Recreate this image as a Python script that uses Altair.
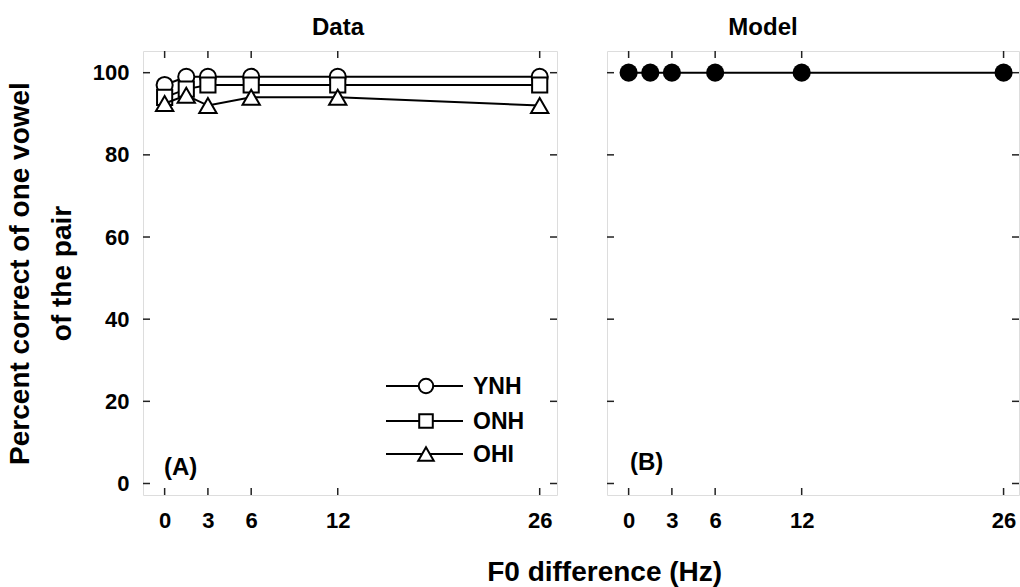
import altair as alt
import pandas as pd

# ---- data ----
f0 = [0, 1.5, 3, 6, 12, 26]
ynh = [97, 99, 99, 99, 99, 99]
onh = [94, 96, 97, 97, 97, 97]
ohi = [92.5, 94.5, 92, 94, 94, 92]
model = [100, 100, 100, 100, 100, 100]
groups = ["YNH", "ONH", "OHI"]
shapes = ["circle", "square", "triangle-up"]
marker_sizes = [260, 230, 300]
x_ticks = [0, 3, 6, 12, 26]
y_ticks = [0, 20, 40, 60, 80, 100]

FONT = "Liberation Sans"
W1, W2, H = 414, 412, 444
XDOM_L = [-1.5, 27.2]
XDOM_R = [-1.5, 27.07]
YDOM = [-2.8, 105.28]
TICK = 7

series = {"YNH": ynh, "ONH": onh, "OHI": ohi}


def x_enc(xdom, field="f0"):
    return alt.X(
        f"{field}:Q",
        scale=alt.Scale(domain=xdom, nice=False, zero=False),
        axis=alt.Axis(values=x_ticks, ticks=False, domain=False, grid=False,
                      labelPadding=15, labelFontSize=22, labelFont=FONT,
                      labelFontWeight="bold", labelColor="black", format="d",
                      title=None),
    )


yaxis_left = alt.Axis(values=y_ticks, ticks=False, domain=False, grid=False,
                      labelPadding=14, labelFontSize=22, labelFont=FONT,
                      labelFontWeight="bold", labelColor="black",
                      title=["Percent correct of one vowel", "of the pair"],
                      titleFont=FONT, titleFontSize=28, titleFontWeight="bold",
                      titleColor="black", titleLineHeight=42, titlePadding=16)


def y_enc(field="pc", axis=True):
    return alt.Y(
        f"{field}:Q",
        scale=alt.Scale(domain=YDOM, nice=False, zero=False),
        axis=yaxis_left if axis else None,
    )


def tick_layers(width, xdom, yaxis):
    xs = pd.DataFrame({"f0": x_ticks})
    ys = pd.DataFrame({"pc": y_ticks})
    layers = []
    for yy in [H - TICK / 2, TICK / 2]:
        layers.append(alt.Chart(xs).mark_tick(orient="vertical", size=TICK, thickness=1.5,
                                              color="#222", opacity=1).encode(
            x=x_enc(xdom), y=alt.value(yy)))
    for xx in [TICK / 2, width - TICK / 2]:
        layers.append(alt.Chart(ys).mark_tick(orient="horizontal", size=TICK, thickness=1.5,
                                              color="#222", opacity=1).encode(
            y=y_enc(axis=yaxis), x=alt.value(xx)))
    return layers


# ---- left panel: Data ----
left_layers = tick_layers(W1, XDOM_L, True)
for g, shp, sz in zip(groups, shapes, marker_sizes):
    df = pd.DataFrame({"f0": f0, "pc": series[g], "group": g})
    base = alt.Chart(df).encode(x=x_enc(XDOM_L), y=y_enc())
    left_layers.append(base.mark_line(color="black", strokeWidth=2))
    left_layers.append(base.mark_point(shape=shp, size=sz, filled=True, fill="white",
                                       stroke="black", strokeWidth=2, opacity=1))

# in-plot legend
leg_y = [335, 370, 403]
for g, shp, sz, yy in zip(groups, shapes, marker_sizes, leg_y):
    ldf = pd.DataFrame({"label": [g]})
    left_layers.append(alt.Chart(ldf).mark_rule(color="black", strokeWidth=2).encode(
        x=alt.value(243), x2=alt.value(320), y=alt.value(yy)))
    left_layers.append(alt.Chart(ldf).mark_point(shape=shp, size=sz * 0.8, filled=True,
                                                 fill="white", stroke="black",
                                                 strokeWidth=2, opacity=1).encode(
        x=alt.value(283), y=alt.value(yy)))
    left_layers.append(alt.Chart(ldf).mark_text(align="left", baseline="middle", font=FONT,
                                                fontSize=23, fontWeight="bold",
                                                color="black").encode(
        x=alt.value(330), y=alt.value(yy + 1), text="label:N"))

left_layers.append(alt.Chart(pd.DataFrame({"p": ["(A)"]})).mark_text(
    align="left", baseline="middle", font=FONT, fontSize=24, fontWeight="bold",
    color="black").encode(x=alt.value(21), y=alt.value(417), text="p:N"))

left = alt.layer(*left_layers).properties(
    width=W1, height=H,
    title=alt.TitleParams("Data", font=FONT, fontSize=24, fontWeight="bold",
                          color="black", anchor="middle", dx=-12, offset=-8,
                          baseline="alphabetic"),
)

# ---- right panel: Model ----
right_layers = tick_layers(W2, XDOM_R, False)
mdf = pd.DataFrame({"f0": f0, "pc": model})
mbase = alt.Chart(mdf).encode(x=x_enc(XDOM_R), y=y_enc(axis=False))
right_layers.append(mbase.mark_line(color="black", strokeWidth=2))
right_layers.append(mbase.mark_point(shape="circle", size=330, filled=True,
                                     color="black", opacity=1))
right_layers.append(alt.Chart(pd.DataFrame({"p": ["(B)"]})).mark_text(
    align="left", baseline="middle", font=FONT, fontSize=24, fontWeight="bold",
    color="black").encode(x=alt.value(23), y=alt.value(412), text="p:N"))

right = alt.layer(*right_layers).properties(
    width=W2, height=H,
    title=alt.TitleParams("Model", font=FONT, fontSize=24, fontWeight="bold",
                          color="black", anchor="middle", dx=-50, offset=-8,
                          baseline="alphabetic"),
)

chart = alt.hconcat(left, right, spacing=48).properties(
    title=alt.TitleParams("F0 difference (Hz)", orient="bottom", anchor="middle",
                          font=FONT, fontSize=28, fontWeight="bold", color="black",
                          dx=92, offset=27),
    padding={"left": 5, "top": 15, "right": 0, "bottom": 0},
).configure_view(stroke="#222", strokeWidth=2).configure(background="white")

chart.save("out.html", embed_options={"renderer": "svg", "actions": False})
